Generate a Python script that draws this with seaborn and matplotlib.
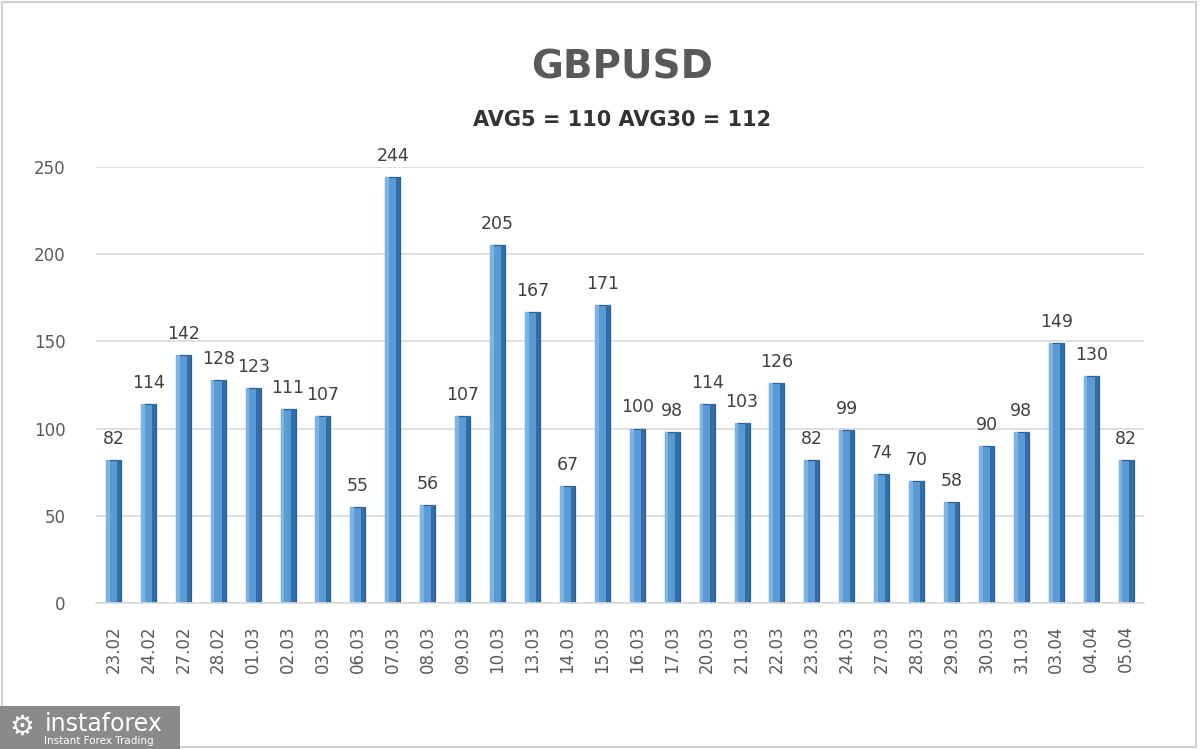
import numpy as np
import pandas as pd
import matplotlib
matplotlib.use('Agg')
import matplotlib.pyplot as plt
from matplotlib.patches import Rectangle
import seaborn as sns

# chart data
dates = ['23.02', '24.02', '27.02', '28.02', '01.03', '02.03', '03.03', '06.03',
         '07.03', '08.03', '09.03', '10.03', '13.03', '14.03', '15.03', '16.03',
         '17.03', '20.03', '21.03', '22.03', '23.03', '24.03', '27.03', '28.03',
         '29.03', '30.03', '31.03', '03.04', '04.04', '05.04']
values = [82, 114, 142, 128, 123, 111, 107, 55, 244, 56, 107, 205, 167, 67, 171,
          100, 98, 114, 103, 126, 82, 99, 74, 70, 58, 90, 98, 149, 130, 82]
title = 'GBPUSD'
subtitle = 'AVG5 = 110 AVG30 = 112'
yticks = [0, 50, 100, 150, 200, 250]

df = pd.DataFrame({'date': dates, 'value': values})

sns.set_theme(style='white')
plt.rcParams['font.family'] = ['DejaVu Sans']

fig = plt.figure(figsize=(12, 7.49), dpi=100)
ax = fig.add_axes([0.080, 0.195, 0.873, 0.582])

sns.barplot(data=df, x='date', y='value', ax=ax, color='#5b9bd5',
            width=0.43, edgecolor='#2a5f91', linewidth=0.9, saturation=1)

# darker right face for the 3d look
for p in ax.patches:
    x0 = p.get_x()
    w = p.get_width()
    h = p.get_height()
    ax.add_patch(Rectangle((x0 + w * 0.72, 0), w * 0.28, h,
                           facecolor='#2f6ea8', edgecolor='none', zorder=p.get_zorder() + 0.1))
    ax.add_patch(Rectangle((x0, 0), w * 0.25, h,
                           facecolor='#7fb3e3', edgecolor='none', zorder=p.get_zorder() + 0.1))

for i, v in enumerate(values):
    ax.text(i, v + 7, str(v), ha='center', va='bottom', fontsize=12.5,
            color='#404040', clip_on=False)

ax.set_xlim(-0.5, len(dates) - 0.5)
ax.set_ylim(0, 250)
ax.set_yticks(yticks)
ax.set_yticklabels([str(t) for t in yticks], fontsize=12, color='#595959')
ax.tick_params(axis='x', labelrotation=90, labelsize=12, labelcolor='#595959', pad=10)
ax.tick_params(axis='y', pad=22, length=0)
ax.set_xlabel('')
ax.set_ylabel('')
ax.yaxis.grid(True, color='#d9d9d9', linewidth=1.2)
ax.set_axisbelow(True)
for s in ['top', 'right', 'left']:
    ax.spines[s].set_visible(False)
ax.spines['bottom'].set_color('#d9d9d9')
ax.spines['bottom'].set_linewidth(1.2)

fig.text(0.518, 0.91, title, ha='center', va='center', fontsize=28,
         fontweight='bold', color='#595959')
fig.text(0.518, 0.84, subtitle, ha='center', va='center', fontsize=15,
         fontweight='bold', color='#333333')

# outer frame
fig.patches.append(Rectangle((0.002, 0.003), 0.995, 0.994, transform=fig.transFigure,
                             fill=False, edgecolor='#d0d0d0', linewidth=1.5))

# logo box
fig.patches.append(Rectangle((0.0, 0.0), 0.15, 0.058, transform=fig.transFigure,
                             facecolor='#8a8a8a', edgecolor='none'))
fig.text(0.037, 0.033, 'instaforex', fontsize=17, color='white', va='center')
fig.text(0.037, 0.011, 'Instant Forex Trading', fontsize=7.5, color='white', va='center')
fig.text(0.018, 0.03, '\u2699', fontsize=20, color='white', va='center', ha='center')

fig.savefig('out.png', dpi=100)
